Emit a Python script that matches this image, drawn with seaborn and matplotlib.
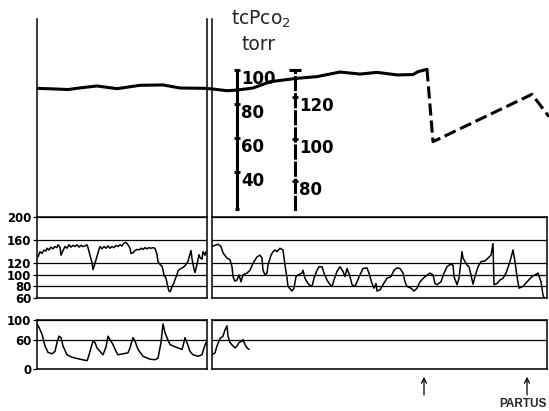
import matplotlib
matplotlib.use("Agg")
import matplotlib.pyplot as plt
import matplotlib.transforms as mtransforms
import seaborn as sns

sns.set_theme(style="white")
plt.rcParams["font.family"] = ["DejaVu Sans"]
plt.rcParams["axes.edgecolor"] = "black"
plt.rcParams["axes.linewidth"] = 1.1

W, H = 549, 411

# ============================================================
#  DATA  (time in chart units: left strip 0-170, right strip 175-510)
# ============================================================

# tcPO2 trace (solid scale, torr)
po2_t = [0, 15, 31, 45, 60, 80, 103, 126, 143, 168, 176, 190, 200, 216, 230,
         233, 260, 280, 303, 323, 340, 360, 376, 381, 390]
po2_val = [89.2, 88.9, 88.5, 89.6, 90.6, 89.0, 91.0, 91.2, 89.4, 89.2, 88.8,
           87.8, 88.2, 89.4, 92.4, 93.1, 95.1, 96.1, 98.8, 97.6, 98.6, 97.1,
           97.3, 99.0, 100.4]
po2_dash_t = [390, 396, 495, 512]
po2_dash_val = [100.4, 57.8, 85.7, 72.5]

# fetal heart rate, bpm
fhr_left_t = [1, 3, 5, 7, 9, 10, 12, 14, 16, 18, 20, 21, 23, 24, 26, 28, 30,
              32, 34, 36, 38, 40, 42, 44, 46, 48, 50, 51, 53, 55, 56, 58, 60,
              62, 63, 65, 67, 69, 71, 73, 75, 77, 79, 81, 83, 85, 87, 89, 91,
              93, 94, 96, 98, 100, 102, 104, 106, 108, 110, 112, 114, 116,
              118, 120, 121, 123, 125, 126, 127, 129, 130, 131, 132, 133, 134,
              135, 137, 138, 140, 141, 143, 145, 147, 149, 151, 152, 154, 155,
              157, 158, 160, 162, 163, 165, 166, 168, 169]
fhr_left_bpm = [131, 140, 137, 143, 141, 146, 143, 148, 145, 149, 147, 152,
                148, 134, 142, 149, 146, 152, 148, 151, 149, 152, 148, 151,
                149, 150, 152, 147, 134, 121, 109, 120, 132, 144, 149, 145,
                149, 146, 150, 146, 149, 147, 151, 149, 152, 150, 155, 156,
                152, 146, 137, 138, 142, 144, 143, 146, 144, 147, 145, 147,
                146, 147, 146, 135, 123, 118, 115, 108, 100, 94, 86, 78, 72,
                71, 74, 80, 86, 92, 100, 107, 110, 112, 114, 118, 123, 130,
                142, 128, 110, 104, 118, 135, 130, 127, 140, 134, 140]

fhr_right_t = [175, 178, 181, 184, 186, 190, 193, 195, 196, 198, 200, 202,
               204, 206, 210, 213, 216, 220, 223, 225, 226, 228, 230, 231,
               234, 236, 238, 240, 243, 246, 248, 250, 251, 255, 257, 259,
               261, 265, 266, 268, 270, 272, 275, 277, 280, 282, 285, 287,
               290, 293, 295, 297, 300, 303, 306, 308, 310, 313, 315, 318,
               320, 323, 326, 330, 332, 335, 337, 339, 340, 343, 346, 350,
               354, 357, 360, 363, 366, 368, 370, 374, 377, 380, 383, 388,
               393, 396, 398, 400, 404, 407, 410, 413, 416, 417, 420, 422,
               425, 426, 428, 430, 432, 434, 436, 438, 441, 444, 448, 451,
               454, 456, 457, 460, 463, 466, 469, 473, 476, 478, 480, 482,
               486, 490, 495, 498, 501, 504, 506, 507]
fhr_right_bpm = [149, 151, 153, 149, 138, 129, 126, 114, 97, 89, 91, 100, 88,
                 100, 103, 108, 120, 131, 134, 129, 108, 100, 103, 117, 134,
                 140, 143, 140, 146, 143, 117, 94, 80, 72, 77, 97, 100, 103,
                 108, 94, 88, 83, 80, 94, 108, 114, 114, 103, 91, 83, 80, 91,
                 106, 114, 106, 97, 111, 97, 83, 80, 88, 100, 111, 112, 103,
                 85, 77, 85, 72, 74, 83, 94, 97, 108, 112, 111, 103, 88, 80,
                 77, 72, 77, 88, 97, 103, 100, 85, 83, 88, 103, 114, 118, 117,
                 97, 83, 94, 140, 129, 123, 117, 114, 100, 84, 97, 114, 123,
                 124, 129, 134, 154, 83, 85, 91, 94, 103, 123, 143, 123, 97,
                 77, 80, 88, 97, 100, 103, 88, 65, 61]

# uterine activity
uc_left_t = [0, 2, 5, 8, 11, 15, 18, 20, 22, 24, 26, 30, 35, 43, 50, 51, 54,
             56, 58, 60, 63, 66, 69, 71, 73, 76, 79, 81, 86, 91, 93, 96, 98,
             101, 106, 113, 118, 121, 124, 126, 128, 130, 133, 136, 141, 145,
             146, 148, 150, 153, 156, 161, 165, 167, 169]
uc_left_val = [92, 85, 71, 47, 34, 31, 36, 54, 67, 64, 47, 29, 24, 20, 17, 22,
               43, 57, 54, 43, 36, 29, 45, 67, 60, 50, 36, 29, 31, 33, 43, 64,
               57, 40, 26, 20, 19, 22, 54, 92, 74, 64, 50, 47, 43, 40, 47, 64,
               54, 36, 29, 26, 29, 43, 54]
uc_right_t = [175, 178, 180, 183, 186, 188, 190, 191, 193, 196, 198, 200, 202,
              205, 206, 208, 210, 212]
uc_right_val = [29, 33, 47, 62, 67, 80, 88, 67, 54, 47, 43, 47, 54, 57, 60,
                50, 43, 40]

fhr_ticks = [60, 80, 100, 120, 160, 200]
uc_ticks = [0, 60, 100]
solid_scale_ticks = [40, 60, 80, 100]
dash_scale_ticks = [80, 100, 120]
event_t = [387, 490]


def add_box(x0, y0, x1, y1):
    return fig.add_axes([x0 / W, 1 - y1 / H, (x1 - x0) / W, (y1 - y0) / H])


def bold_labels(ax):
    for lbl in ax.get_yticklabels():
        lbl.set_fontweight("bold")


fig = plt.figure(figsize=(W / 100, H / 100), dpi=100)

# ---- top strip frame lines ----
ax_tl = add_box(37, 19, 207, 217)
ax_tr = add_box(212, 19, 547, 217)
for ax, keep in [(ax_tl, ["left", "right"]), (ax_tr, ["left"])]:
    for side in ["left", "right", "top", "bottom"]:
        ax.spines[side].set_visible(side in keep)
    ax.set_xticks([])
    ax.set_yticks([])

# ---- tcPO2 trace ----
ax_top = add_box(37, 19, 549, 217)
ax_top.patch.set_alpha(0)
sns.lineplot(x=po2_t, y=po2_val, ax=ax_top, color="black", lw=2.2,
             estimator=None, sort=False)
sns.lineplot(x=po2_dash_t, y=po2_dash_val, ax=ax_top, color="black", lw=2.2,
             estimator=None, sort=False, dashes=False, linestyle=(0, (4, 1.6)))
ax_top.set_xlim(0, 512)
ax_top.set_ylim(13.5, 130)
ax_top.axis("off")


def scale_bar(ylim, spine_t, bounds, ticks, cap, cap_len, dashed):
    sax = add_box(37, 19, 549, 217)
    sax.patch.set_alpha(0)
    sax.set_xlim(0, 512)
    sax.set_ylim(*ylim)
    for side in ["left", "top", "bottom"]:
        sax.spines[side].set_visible(False)
    sp = sax.spines["right"]
    sp.set_position(("data", spine_t))
    sp.set_bounds(*bounds)
    sp.set_linewidth(2.2)
    if dashed:
        sp.set_linestyle((0, (4, 1.6)))
    sax.set_xticks([])
    sax.yaxis.tick_right()
    sax.set_yticks(ticks)
    sax.set_yticks(cap, minor=True)
    sax.tick_params(axis="y", which="major", direction="inout", length=5,
                    width=2, pad=0.5, labelsize=12, colors="black")
    sax.tick_params(axis="y", which="minor", right=True, direction="inout",
                    length=cap_len, width=2.2, colors="black")
    shift = mtransforms.ScaledTranslation(0, -0.07, fig.dpi_scale_trans)
    for lbl in sax.get_yticklabels():
        lbl.set_fontweight("bold")
        lbl.set_transform(lbl.get_transform() + shift)
    return sax


scale_bar((13.5, 130), 200, (18.2, 100), solid_scale_ticks, [18.2], 3, False)
scale_bar((62.9, 157.1), 258, (66.7, 132.9), dash_scale_ticks, [132.9], 8.5, True)

fig.text(261 / W, 1 - 19 / H, "tcPco$_2$", ha="center", va="center",
         fontsize=13.5)
fig.text(259 / W, 1 - 45 / H, "torr", ha="center", va="center", fontsize=13.5)

# ---- heart rate strip ----
ax_hl = add_box(37, 217, 207, 298)
ax_hr = add_box(212, 217, 547, 298)
sns.lineplot(x=fhr_left_t, y=fhr_left_bpm, ax=ax_hl, color="black", lw=1.1,
             estimator=None, sort=False)
sns.lineplot(x=fhr_right_t, y=fhr_right_bpm, ax=ax_hr, color="black", lw=1.1,
             estimator=None, sort=False)
ax_hl.set_xlim(0, 170)
ax_hr.set_xlim(175, 510)

# ---- uterine activity strip ----
ax_ul = add_box(37, 320, 207, 369)
ax_ur = add_box(212, 320, 547, 369)
sns.lineplot(x=uc_left_t, y=uc_left_val, ax=ax_ul, color="black", lw=1.1,
             estimator=None, sort=False)
sns.lineplot(x=uc_right_t, y=uc_right_val, ax=ax_ur, color="black", lw=1.1,
             estimator=None, sort=False)
ax_ul.set_xlim(0, 170)
ax_ur.set_xlim(175, 510)

for ax, ylim, ticks, labelled in [(ax_hl, (60, 200), fhr_ticks, True),
                                  (ax_hr, (60, 200), fhr_ticks, False),
                                  (ax_ul, (0, 100), uc_ticks, True),
                                  (ax_ur, (0, 100), uc_ticks, False)]:
    ax.set_ylim(*ylim)
    ax.set_yticks(ticks)
    ax.set_xticks([])
    ax.set_xlabel("")
    ax.set_ylabel("")
    ax.grid(axis="y", color="black", lw=0.9)
    ax.grid(axis="x", visible=False)
    ax.tick_params(axis="y", left=labelled, labelleft=labelled, length=3,
                   width=0.9, pad=1, labelsize=8.5, colors="black")
    bold_labels(ax)

# ---- event arrows ----
for t in event_t:
    ax_ur.annotate("", xy=(t, -0.16), xytext=(t, -0.53),
                   xycoords=("data", "axes fraction"),
                   textcoords=("data", "axes fraction"),
                   annotation_clip=False,
                   arrowprops=dict(arrowstyle="->", lw=0.9, color="black",
                                   shrinkA=0, shrinkB=0, mutation_scale=9))
ax_ur.text(1.0, -0.6, "PARTUS", transform=ax_ur.transAxes,
           ha="right", va="top", fontsize=8.5, fontweight="bold",
           family=["Liberation Sans", "DejaVu Sans"])

plt.savefig("out.png", dpi=100)
